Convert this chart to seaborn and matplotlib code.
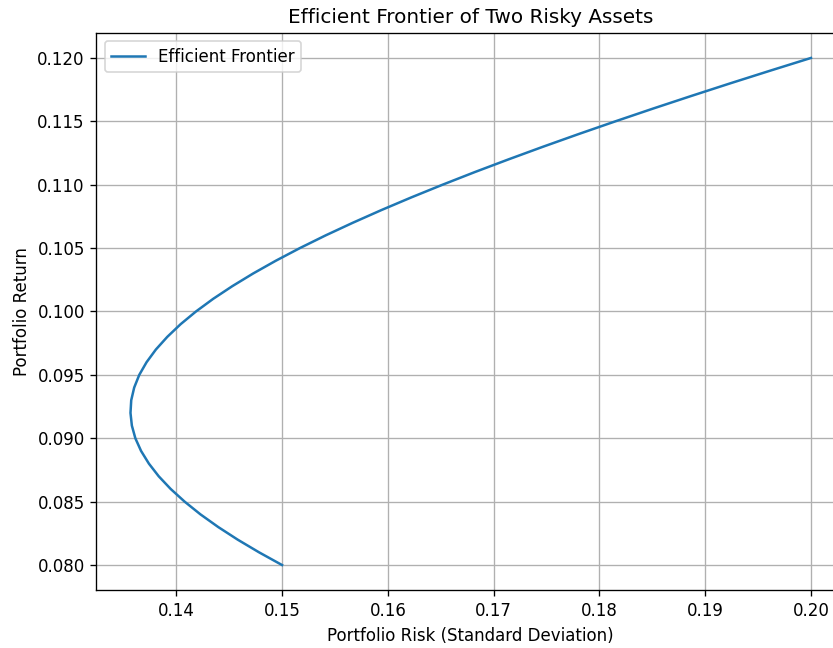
import pandas as pd
import seaborn as sns
from matplotlib import pyplot as plt

portfolio_risk = [0.15000, 0.14783, 0.14581, 0.14396, 0.14228, 0.14079, 0.13947,
                  0.13834, 0.13741, 0.13667, 0.13613, 0.13580, 0.13567, 0.13574,
                  0.13602, 0.13650, 0.13719, 0.13807, 0.13915, 0.14041, 0.14186,
                  0.14349, 0.14530, 0.14727, 0.14940, 0.15168, 0.15411, 0.15669,
                  0.15939, 0.16222, 0.16517, 0.16823, 0.17141, 0.17468, 0.17805,
                  0.18151, 0.18505, 0.18868, 0.19238, 0.19616, 0.20000]
portfolio_return = [0.080, 0.081, 0.082, 0.083, 0.084, 0.085, 0.086,
                    0.087, 0.088, 0.089, 0.090, 0.091, 0.092, 0.093,
                    0.094, 0.095, 0.096, 0.097, 0.098, 0.099, 0.100,
                    0.101, 0.102, 0.103, 0.104, 0.105, 0.106, 0.107,
                    0.108, 0.109, 0.110, 0.111, 0.112, 0.113, 0.114,
                    0.115, 0.116, 0.117, 0.118, 0.119, 0.120]

df = pd.DataFrame({"risk": portfolio_risk, "ret": portfolio_return})

# rendered at 120 dpi so text and lines come out a bit larger
fig = plt.figure(figsize=(833 / 120, 648 / 120), dpi=120)
ax = fig.add_axes([0.1158, 0.0889, 0.8986, 0.8608])

sns.lineplot(data=df, x="risk", y="ret", sort=False, estimator=None,
             color="#1f77b4", linewidth=1.5, label="Efficient Frontier", ax=ax)

ax.set_title("Efficient Frontier of Two Risky Assets")
ax.set_xlabel("Portfolio Risk (Standard Deviation)")
ax.set_ylabel("Portfolio Return")
ax.grid(True)
ax.legend(loc="upper left")

fig.savefig("out.png", dpi=120)
